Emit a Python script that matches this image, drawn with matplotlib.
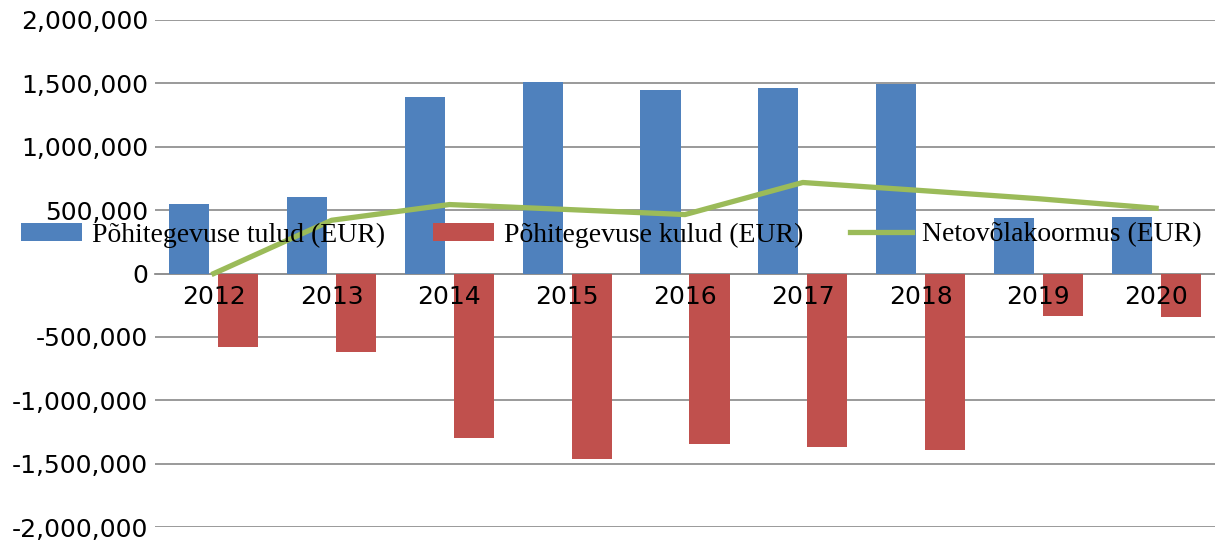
import numpy as np
import matplotlib
matplotlib.use("Agg")
import matplotlib.pyplot as plt
from matplotlib.ticker import FuncFormatter

years = ["2012", "2013", "2014", "2015", "2016", "2017", "2018", "2019", "2020"]
tulud = [545000, 607000, 1389000, 1507000, 1444000, 1467000, 1497000, 434000, 442000]
kulud = [-576000, -623000, -1294000, -1460000, -1349000, -1365000, -1389000, -339000, -347000]
netovolg = [0, 420000, 544000, 505000, 465000, 718000, 655000, 590000, 515000]

blue = "#4F81BD"
red = "#C0504D"
green = "#9BBB59"
grid_c = "#929292"

fig = plt.figure(figsize=(12.15, 5.44), dpi=100)
ax = fig.add_axes([155 / 1215, 17 / 544, 1 - 155 / 1215, 507 / 544])

x = np.arange(len(years))
w = 0.34
b1 = ax.bar(x - 0.208, tulud, w, color=blue, zorder=2, label="Põhitegevuse tulud (EUR)")
b2 = ax.bar(x + 0.208, kulud, w, color=red, zorder=2, label="Põhitegevuse kulud (EUR)")
ln, = ax.plot(x, netovolg, color=green, lw=3.8, zorder=3, label="Netovõlakoormus (EUR)")

ax.set_xlim(-0.5, len(years) - 0.5)
ax.set_ylim(-2000000, 2000000)
ax.set_yticks(np.arange(-2000000, 2000001, 500000))
ax.yaxis.set_major_formatter(FuncFormatter(lambda v, p: f"{v:,.0f}"))
ax.yaxis.grid(True, color=grid_c, lw=1.3)
ax.set_axisbelow(True)
# year labels sit on top of the bars
ax.xaxis.set_zorder(5)

ax.set_xticks(x)
ax.set_xticklabels(years)
ax.spines["bottom"].set_position(("data", 0))
ax.spines["bottom"].set_color(grid_c)
ax.spines["bottom"].set_linewidth(1.3)
ax.spines["bottom"].set_zorder(1)
for s in ["left", "right", "top"]:
    ax.spines[s].set_visible(False)
ax.tick_params(axis="both", length=0, labelsize=18)
ax.tick_params(axis="x", pad=8)
ax.tick_params(axis="y", pad=5)

leg = fig.legend(handles=[b1, b2, ln], loc="center", bbox_to_anchor=(0.503, 1 - 235 / 544),
                 ncol=3, frameon=False, prop={"family": "Liberation Serif", "size": 20},
                 handlelength=2.2, handleheight=0.6, handletextpad=0.37, columnspacing=1.7)

fig.savefig("out.png", dpi=100)
